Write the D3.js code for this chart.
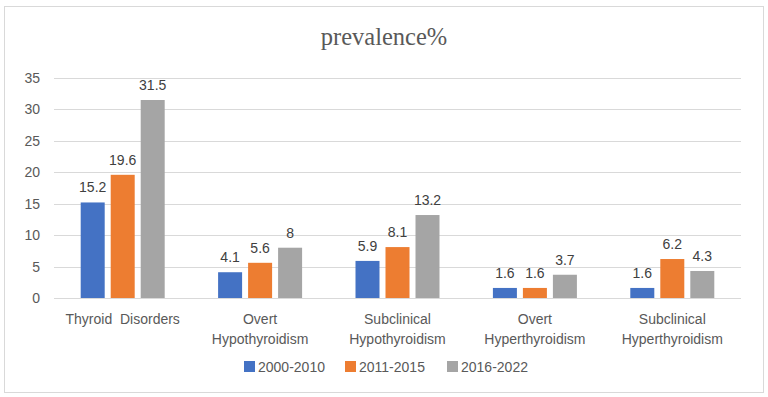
<!DOCTYPE html>
<html>
<head>
<meta charset="utf-8">
<script src="https://cdn.jsdelivr.net/npm/d3@7"></script>
<style>
  body { margin: 0; background: #fff; }
  text { font-family: "Liberation Sans", "DejaVu Sans", sans-serif; white-space: pre; }
</style>
</head>
<body>
<div id="main"></div>
<script>
var categories = [['Thyroid  Disorders'], ['Overt', 'Hypothyroidism'], ['Subclinical', 'Hypothyroidism'], ['Overt', 'Hyperthyroidism'], ['Subclinical', 'Hyperthyroidism']]
var seriesNames = ['2000-2010', '2011-2015', '2016-2022']
var series2000 = [15.2, 4.1, 5.9, 1.6, 1.6]
var series2011 = [19.6, 5.6, 8.1, 1.6, 6.2]
var series2016 = [31.5, 8, 13.2, 3.7, 4.3]
var yTicks = [0, 5, 10, 15, 20, 25, 30, 35]
var colors = ['#4472C4', '#ED7D31', '#A5A5A5']

var width = 768, height = 397
var plotLeft = 54, plotRight = 741, plotTop = 78, plotBottom = 298
var barWidth = 24, barStep = 30

var svg = d3.select('#main')
  .append('svg')
  .attr('width', width)
  .attr('height', height)

svg.append('rect')
  .attr('x', 4.5).attr('y', 6.5)
  .attr('width', 759).attr('height', 386)
  .attr('fill', '#fff')
  .attr('stroke', '#D9D9D9')

svg.append('text')
  .text('prevalence%')
  .attr('x', 384).attr('y', 45)
  .attr('text-anchor', 'middle')
  .attr('fill', '#595959')
  .style('font-family', '"Liberation Serif", "DejaVu Serif", serif')
  .style('font-size', '24.5px')

var x = d3.scaleBand()
  .domain(d3.range(categories.length))
  .range([plotLeft, plotRight])

var y = d3.scaleLinear()
  .domain([0, 35])
  .range([plotBottom, plotTop])

// gridlines
svg.append('g')
  .selectAll('line')
  .data(yTicks)
  .enter()
  .append('line')
  .attr('x1', plotLeft).attr('x2', plotRight)
  .attr('y1', d => Math.round(y(d)) + 0.5)
  .attr('y2', d => Math.round(y(d)) + 0.5)
  .attr('stroke', '#D9D9D9')

// y axis labels
svg.append('g')
  .selectAll('text')
  .data(yTicks)
  .enter()
  .append('text')
  .text(d => d)
  .attr('x', 40)
  .attr('y', d => y(d) + 5)
  .attr('text-anchor', 'end')
  .attr('fill', '#595959')
  .style('font-size', '14px')

var data = [series2000, series2011, series2016]

data.forEach(function (values, s) {
  var g = svg.append('g')
  var cx = i => x(i) + x.bandwidth() / 2 + (s - 1) * barStep
  g.selectAll('rect')
    .data(values)
    .enter()
    .append('rect')
    .attr('x', (d, i) => cx(i) - barWidth / 2)
    .attr('y', d => y(d))
    .attr('width', barWidth)
    .attr('height', d => plotBottom - y(d))
    .attr('fill', colors[s])
  g.selectAll('text')
    .data(values)
    .enter()
    .append('text')
    .text(d => d)
    .attr('x', (d, i) => cx(i))
    .attr('y', d => y(d) - 10)
    .attr('text-anchor', 'middle')
    .attr('fill', '#404040')
    .style('font-size', '14px')
})

// category labels
svg.append('g')
  .selectAll('text')
  .data(categories)
  .enter()
  .append('text')
  .attr('x', (d, i) => x(i) + x.bandwidth() / 2)
  .attr('y', 324)
  .attr('text-anchor', 'middle')
  .attr('fill', '#595959')
  .style('font-size', '14px')
  .selectAll('tspan')
  .data(d => d)
  .enter()
  .append('tspan')
  .attr('x', function () { return this.parentNode.getAttribute('x') })
  .attr('dy', (d, i) => i ? 20 : 0)
  .text(d => d)

// legend
var legendX = [244, 345, 447]
var legend = svg.append('g')
  .selectAll('g')
  .data(seriesNames)
  .enter()
  .append('g')
  .attr('transform', (d, i) => `translate(${legendX[i]}, 367)`)

legend.append('rect')
  .attr('x', 0).attr('y', -6)
  .attr('width', 11).attr('height', 11)
  .attr('fill', (d, i) => colors[i])

legend.append('text')
  .text(d => d)
  .attr('x', 14)
  .attr('y', 5)
  .attr('fill', '#595959')
  .style('font-size', '14px')
</script>
</body>
</html>
